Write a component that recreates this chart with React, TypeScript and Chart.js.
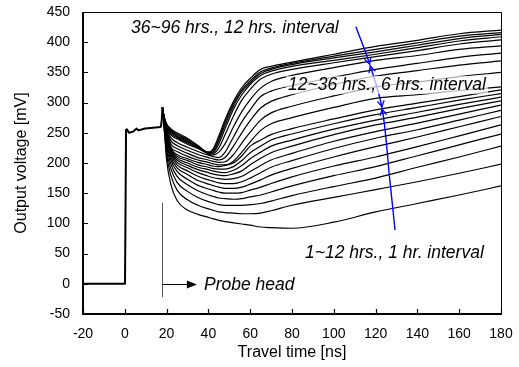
import { useEffect, useRef } from "react";
import { Chart, registerables } from "chart.js";

Chart.register(...registerables);

const FONT = "'Liberation Sans', Arial, Helvetica, sans-serif";

// travel time sample points [ns] shared by every waveform after the probe head
const TIME_NS = [18, 19, 20, 22, 25, 30, 35, 40, 42, 45, 48, 52, 56, 60, 65, 70, 80, 100, 120, 140, 160, 180];

// waveforms, bottom (1 hr) to top (96 hrs) [mV]
const W01 = [292, 250, 205, 165, 138, 122, 115, 110, 108, 105, 103, 101, 99, 97, 94, 93, 92, 102, 119, 133, 147, 162];
const W02 = [292, 252, 214, 180, 155, 139, 130, 124, 122, 119, 118, 117, 116, 116, 117, 121, 130, 143, 156, 169, 183, 198];
const W03 = [292, 254, 221, 191, 168, 153, 143, 136, 134, 131, 130, 130, 130, 131, 133, 137, 146, 161, 175, 193, 210, 228];
const W04 = [292, 256, 227, 199, 178, 164, 154, 147, 145, 142, 141, 140, 141, 144, 147, 152, 162, 179, 194, 212, 230, 248];
const W05 = [292, 258, 232, 205, 186, 173, 163, 157, 155, 152, 150, 150, 151, 155, 160, 166, 177, 195, 210, 227, 245, 263];
const W06 = [292, 259, 236, 210, 192, 181, 171, 165, 163, 160, 158, 158, 160, 165, 172, 180, 191, 210, 227, 243, 260, 277];
const W07 = [292, 260, 239, 214, 197, 187, 178, 172, 170, 167, 166, 166, 169, 175, 184, 193, 204, 224, 241, 255, 271, 287];
const W08 = [292, 261, 242, 217, 201, 192, 184, 178, 176, 174, 173, 174, 178, 186, 196, 205, 216, 236, 252, 266, 281, 296];
const W09 = [292, 262, 244, 219, 205, 196, 189, 184, 182, 180, 179, 182, 187, 197, 208, 217, 228, 247, 263, 276, 290, 303];
const W10 = [292, 263, 246, 221, 208, 200, 193, 189, 187, 185, 184, 188, 196, 207, 218, 228, 238, 256, 271, 284, 297, 309];
const W11 = [292, 264, 248, 223, 211, 204, 197, 193, 191, 190, 190, 194, 204, 217, 228, 238, 248, 265, 280, 292, 304, 315];
const W12 = [292, 265, 250, 225, 214, 207, 201, 197, 195, 194, 196, 200, 212, 228, 238, 247, 257, 273, 288, 299, 310, 321];
const W13 = [292, 266, 252, 227, 219, 211, 205, 201, 199, 197, 197, 203, 218, 235, 254, 265, 275, 292, 307, 313, 320, 326];
const W14 = [292, 267, 254, 232, 224, 216, 209, 205, 203, 201, 202, 214, 233, 251, 271, 283, 294, 311, 326, 334, 343, 350];
const W15 = [292, 268, 256, 237, 229, 221, 214, 209, 207, 205, 209, 228, 250, 270, 291, 302, 313, 330, 344, 353, 362, 369];
const W16 = [292, 269, 258, 242, 234, 226, 219, 213, 211, 209, 218, 243, 268, 288, 310, 319, 328, 342, 355, 365, 375, 382];
const W17 = [292, 270, 260, 247, 240, 231, 224, 215, 213, 218, 232, 260, 285, 305, 324, 335, 345, 358, 370, 378, 388, 394];
const W18 = [292, 271, 261, 249, 242, 233, 225, 216, 215, 225, 247, 278, 304, 322, 339, 347, 355, 366, 376, 386, 397, 404];
const W19 = [292, 272, 262, 251, 244, 235, 226, 217, 217, 232, 257, 289, 313, 330, 345, 352, 360, 370, 380, 391, 402, 409];
const W20 = [292, 273, 263, 253, 246, 237, 227, 217, 218, 237, 263, 294, 318, 333, 348, 355, 363, 374, 384, 395, 406, 413];
const W21 = [292, 274, 264, 255, 248, 239, 228, 218, 220, 241, 268, 298, 321, 336, 351, 357, 365, 377, 388, 399, 410, 416];
const W22 = [292, 275, 265, 257, 250, 241, 229, 218, 222, 245, 272, 302, 325, 340, 355, 360, 367, 380, 393, 403, 414, 420];

const WAVES = [W01, W02, W03, W04, W05, W06, W07, W08, W09, W10, W11, W12, W13, W14, W15, W16, W17, W18, W19, W20, W21, W22];

// common part of all waveforms (cable before the probe head)
const LEAD_NS = [-20, 0.1, 0.6, 1.0, 2, 4, 5.7, 6.5, 9.7, 16, 17.3, 17.7, 18];
const LEAD_MV = [0, 0, 255, 256, 250, 252, 257, 254, 257, 259, 260, 272, 292];

// blue guide arc
const ARC_NS = [110.6, 117.3, 123.1, 126.8, 129.3];
const ARC_MV = [425.7, 362, 291, 172, 89];

const X_TICKS = [-20, 0, 20, 40, 60, 80, 100, 120, 140, 160, 180];
const Y_TICKS = [-50, 0, 50, 100, 150, 200, 250, 300, 350, 400, 450];

const NOTE_TOP = "36~96 hrs., 12 hrs. interval";
const NOTE_MID = "12~36 hrs., 6 hrs. interval";
const NOTE_LOW = "1~12 hrs., 1 hr. interval";
const NOTE_PROBE = "Probe head";

const NOTE_TOP_AT = { x: 3, y: 415 };
const NOTE_MID_AT = { x: 78.1, y: 321 };
const NOTE_LOW_AT = { x: 86.2, y: 42.7 };
const NOTE_PROBE_AT = { x: 37.9, y: -10.3 };
const PROBE_X = 17.8;
const PROBE_SPAN = [-22, 134];
const PROBE_ARROW_END = 34.5;

const overlay = {
  id: "overlay",
  afterDatasetsDraw(chart: any) {
    const { ctx, chartArea: a } = chart;
    const xs = chart.scales.x;
    const ys = chart.scales.y;
    const px = (v: number) => xs.getPixelForValue(v);
    const py = (v: number) => ys.getPixelForValue(v);
    ctx.save();

    // arrowheads on the blue arc
    const pts = ARC_NS.map((v, i) => [px(v), py(ARC_MV[i])]);
    ctx.strokeStyle = "#0000ff";
    ctx.lineWidth = 1.3;
    const head = (tx: number, ty: number, dx: number, dy: number) => {
      const L = 7;
      const ang = 0.5;
      for (const s of [-1, 1]) {
        const c = Math.cos(s * ang);
        const sn = Math.sin(s * ang);
        const rx = dx * c - dy * sn;
        const ry = dx * sn + dy * c;
        ctx.beginPath();
        ctx.moveTo(tx, ty);
        ctx.lineTo(tx - rx * L, ty - ry * L);
        ctx.stroke();
      }
    };
    for (const j of [1, 2]) {
      const [x0, y0] = pts[j - 1];
      const [x2, y2] = pts[j + 1];
      const [tx, ty] = pts[j];
      let dx = x2 - x0;
      let dy = y2 - y0;
      const n = Math.hypot(dx, dy);
      dx /= n;
      dy /= n;
      head(tx - dx * 1.2, ty - dy * 1.2, dx, dy);
      head(tx + dx * 1.2, ty + dy * 1.2, -dx, -dy);
    }

    // notes
    ctx.font = `italic 17.5px ${FONT}`;
    ctx.textBaseline = "alphabetic";
    ctx.textAlign = "left";
    const note = (text: string, at: { x: number; y: number }, box: boolean) => {
      const x = px(at.x);
      const y = py(at.y);
      const w = ctx.measureText(text).width;
      if (box) {
        ctx.fillStyle = "rgba(255,255,255,0.68)";
        ctx.fillRect(x - 2, y - 14, w + 4, 18);
      }
      ctx.fillStyle = "#000";
      ctx.fillText(text, x, y);
    };
    note(NOTE_TOP, NOTE_TOP_AT, true);
    note(NOTE_MID, NOTE_MID_AT, true);
    note(NOTE_LOW, NOTE_LOW_AT, true);
    note(NOTE_PROBE, NOTE_PROBE_AT, false);

    // probe head marker
    ctx.strokeStyle = "#555";
    ctx.lineWidth = 1;
    const lx = Math.round(px(PROBE_X)) + 0.5;
    ctx.beginPath();
    ctx.moveTo(lx, py(PROBE_SPAN[0]));
    ctx.lineTo(lx, py(PROBE_SPAN[1]));
    ctx.stroke();
    const ay = Math.round(py(0)) + 0.5;
    const tip = px(PROBE_ARROW_END);
    ctx.strokeStyle = "#000";
    ctx.beginPath();
    ctx.moveTo(lx, ay);
    ctx.lineTo(tip - 8, ay);
    ctx.stroke();
    ctx.fillStyle = "#000";
    ctx.beginPath();
    ctx.moveTo(tip, ay);
    ctx.lineTo(tip - 10, ay - 4);
    ctx.lineTo(tip - 10, ay + 4);
    ctx.closePath();
    ctx.fill();

    // frame
    ctx.strokeStyle = "#000";
    ctx.lineWidth = 1;
    ctx.beginPath();
    ctx.moveTo(a.left, Math.round(a.top) + 0.5);
    ctx.lineTo(Math.round(a.right) + 0.5, Math.round(a.top) + 0.5);
    ctx.lineTo(Math.round(a.right) + 0.5, a.bottom);
    ctx.stroke();
    ctx.lineWidth = 2;
    ctx.beginPath();
    ctx.moveTo(a.left, a.top);
    ctx.lineTo(a.left, a.bottom);
    ctx.lineTo(a.right + 1, a.bottom);
    ctx.stroke();

    // inward ticks
    ctx.lineWidth = 1.2;
    ctx.beginPath();
    for (const v of X_TICKS) {
      const x = Math.round(px(v)) + 0.5;
      ctx.moveTo(x, a.bottom);
      ctx.lineTo(x, a.bottom - 5);
    }
    for (const v of Y_TICKS) {
      const y = Math.round(py(v)) + 0.5;
      ctx.moveTo(a.left, y);
      ctx.lineTo(a.left + 5, y);
    }
    ctx.stroke();
    ctx.restore();
  },
};

export default function App() {
  const ref = useRef<HTMLCanvasElement | null>(null);

  useEffect(() => {
    if (!ref.current) return;
    const waveSets = WAVES.map((w) => ({
      data: TIME_NS.map((t, i) => ({ x: t, y: w[i] })),
      borderColor: "#000",
      borderWidth: 1.2,
      pointRadius: 0,
      cubicInterpolationMode: "monotone" as const,
      fill: false,
    }));
    const chart = new Chart(ref.current, {
      type: "line",
      data: {
        datasets: [
          {
            data: ARC_NS.map((t, i) => ({ x: t, y: ARC_MV[i] })),
            borderColor: "#0000ff",
            borderWidth: 1.4,
            pointRadius: 0,
            tension: 0.35,
            fill: false,
          },
          {
            data: LEAD_NS.map((t, i) => ({ x: t, y: LEAD_MV[i] })),
            borderColor: "#000",
            borderWidth: 2,
            borderJoinStyle: "round",
            pointRadius: 0,
            tension: 0,
            fill: false,
          },
          ...waveSets,
        ] as any,
      },
      options: {
        animation: false,
        responsive: false,
        devicePixelRatio: 1,
        layout: { padding: { top: 12, right: 18, bottom: 0, left: 0 } },
        plugins: { legend: { display: false }, tooltip: { enabled: false } },
        scales: {
          x: {
            type: "linear",
            min: -20,
            max: 180,
            grid: { display: false, drawTicks: false },
            border: { display: false },
            ticks: {
              stepSize: 20,
              color: "#000",
              font: { family: FONT, size: 14 },
              padding: 12,
              maxRotation: 0,
              autoSkip: false,
            },
            title: {
              display: true,
              text: "Travel time [ns]",
              color: "#000",
              font: { family: FONT, size: 16 },
              padding: { top: 0, bottom: 5 },
            },
            afterFit: (s: any) => {
              s.height = 53;
              s.paddingLeft = 0;
              s.paddingRight = 0;
            },
          },
          y: {
            type: "linear",
            min: -50,
            max: 450,
            grid: { display: false, drawTicks: false },
            border: { display: false },
            ticks: {
              stepSize: 50,
              color: "#000",
              font: { family: FONT, size: 14 },
              padding: 13,
              autoSkip: false,
            },
            title: {
              display: true,
              text: "Output voltage [mV]",
              color: "#000",
              font: { family: FONT, size: 16 },
              padding: { top: 12, bottom: 0 },
            },
            afterFit: (s: any) => {
              s.width = 83;
              s.paddingTop = 0;
              s.paddingBottom = 0;
            },
          },
        },
      },
      plugins: [overlay],
    });
    return () => chart.destroy();
  }, []);

  return (
    <div style={{ position: "absolute", left: 0, top: 0, width: 519, height: 367, background: "#fff" }}>
      <canvas ref={ref} width={519} height={367} style={{ display: "block" }} />
    </div>
  );
}
